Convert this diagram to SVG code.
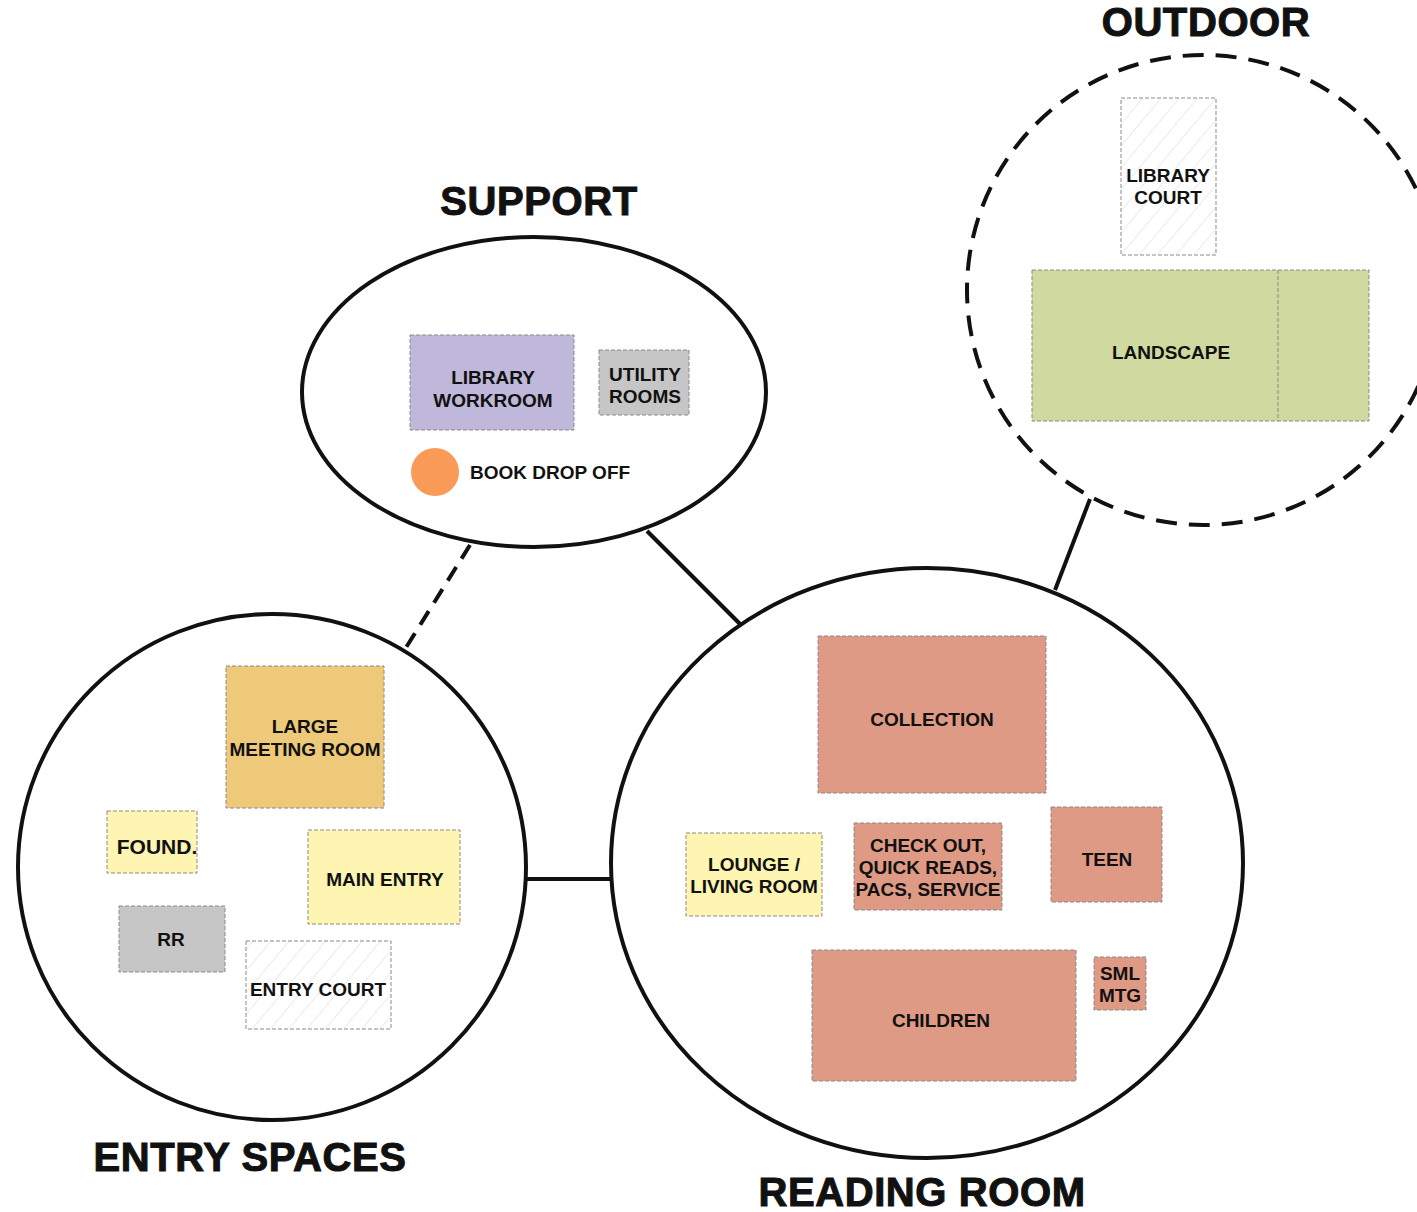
<svg xmlns="http://www.w3.org/2000/svg" width="1417" height="1212" viewBox="0 0 1417 1212">
<defs>
<pattern id="hatch" patternUnits="userSpaceOnUse" width="14" height="14" patternTransform="rotate(40)">
<rect width="14" height="14" fill="#ffffff"/>
<line x1="0" y1="0" x2="0" y2="14" stroke="#d8d8d8" stroke-width="1"/>
</pattern>
<style>
.zone{fill:#ffffff;stroke:#111;stroke-width:4}
.dz{fill:none;stroke:#111;stroke-width:4;stroke-dasharray:21 12}
.room{stroke:#8a8a8a;stroke-width:1;stroke-dasharray:4 2}
.t{font-family:"Liberation Sans",Arial,sans-serif;font-weight:bold;font-size:19px;fill:#111;text-anchor:middle}
.title{font-family:"Liberation Sans",Arial,sans-serif;font-weight:900;font-size:40px;fill:#111;stroke:#111;stroke-width:1;text-anchor:middle;letter-spacing:0.6px}
.con{stroke:#111;stroke-width:4;fill:none}
.salmon{fill:#df9a85}
.yellow{fill:#fdf5b1}
.grey{fill:#c6c6c6}
</style>
</defs>

<g id="connectors">
<line class="con" x1="470" y1="545" x2="402" y2="654" stroke-dasharray="16 10"/>
<line class="con" x1="647" y1="531" x2="740" y2="624"/>
<line class="con" x1="1090" y1="499" x2="1055" y2="590"/>
<line class="con" x1="525" y1="879" x2="612" y2="879"/>
</g>

<g id="outdoor">
<ellipse class="dz" cx="1203" cy="290" rx="236" ry="235"/>
<text class="title" x="1206" y="36">OUTDOOR</text>
<g id="library-court">
<rect class="room" x="1121" y="98" width="95" height="157" fill="url(#hatch)"/>
<text class="t" x="1168" y="182">LIBRARY</text>
<text class="t" x="1168" y="204">COURT</text>
</g>
<g id="landscape">
<rect class="room" x="1032" y="270" width="337" height="151" fill="#d0d9a0"/>
<line class="room" x1="1278" y1="270" x2="1278" y2="421"/>
<text class="t" x="1171" y="359">LANDSCAPE</text>
</g>
</g>

<g id="support">
<ellipse class="zone" cx="534" cy="392" rx="232" ry="155"/>
<text class="title" x="539" y="215">SUPPORT</text>
<g id="library-workroom">
<rect class="room" x="410" y="335" width="164" height="95" fill="#bfb8db"/>
<text class="t" x="493" y="384">LIBRARY</text>
<text class="t" x="493" y="407">WORKROOM</text>
</g>
<g id="utility-rooms">
<rect class="room grey" x="599" y="350" width="90" height="65"/>
<text class="t" x="645" y="381">UTILITY</text>
<text class="t" x="645" y="403">ROOMS</text>
</g>
<g id="book-drop-off">
<circle cx="435" cy="472" r="24" fill="#f99b57"/>
<text class="t" x="470" y="479" style="text-anchor:start">BOOK DROP OFF</text>
</g>
</g>

<g id="entry-spaces">
<ellipse class="zone" cx="272" cy="867" rx="254" ry="253"/>
<text class="title" x="250" y="1171">ENTRY SPACES</text>
<g id="large-meeting-room">
<rect class="room" x="226" y="666" width="158" height="142" fill="#edc979"/>
<text class="t" x="305" y="733">LARGE</text>
<text class="t" x="305" y="756">MEETING ROOM</text>
</g>
<g id="found">
<rect class="room yellow" x="107" y="811" width="90" height="62"/>
<text class="t" x="157" y="854" style="font-size:21px">FOUND.</text>
</g>
<g id="main-entry">
<rect class="room yellow" x="308" y="830" width="152" height="94"/>
<text class="t" x="385" y="886">MAIN ENTRY</text>
</g>
<g id="rr">
<rect class="room grey" x="119" y="906" width="106" height="66"/>
<text class="t" x="171" y="946">RR</text>
</g>
<g id="entry-court">
<rect class="room" x="246" y="941" width="145" height="88" fill="url(#hatch)"/>
<text class="t" x="318" y="996">ENTRY COURT</text>
</g>
</g>

<g id="reading-room">
<ellipse class="zone" cx="927" cy="863" rx="316" ry="295"/>
<text class="title" x="922" y="1206">READING ROOM</text>
<g id="collection">
<rect class="room salmon" x="818" y="636" width="228" height="157"/>
<text class="t" x="932" y="726">COLLECTION</text>
</g>
<g id="lounge">
<rect class="room yellow" x="686" y="833" width="136" height="83"/>
<text class="t" x="754" y="871">LOUNGE /</text>
<text class="t" x="754" y="893">LIVING ROOM</text>
</g>
<g id="check-out">
<rect class="room salmon" x="854" y="823" width="148" height="87"/>
<text class="t" x="928" y="852">CHECK OUT,</text>
<text class="t" x="928" y="874">QUICK READS,</text>
<text class="t" x="928" y="896">PACS, SERVICE</text>
</g>
<g id="teen">
<rect class="room salmon" x="1051" y="807" width="111" height="95"/>
<text class="t" x="1107" y="866">TEEN</text>
</g>
<g id="children">
<rect class="room salmon" x="812" y="950" width="264" height="131"/>
<text class="t" x="941" y="1027">CHILDREN</text>
</g>
<g id="sml-mtg">
<rect class="room salmon" x="1094" y="957" width="52" height="53"/>
<text class="t" x="1120" y="980">SML</text>
<text class="t" x="1120" y="1002">MTG</text>
</g>
</g>
</svg>
